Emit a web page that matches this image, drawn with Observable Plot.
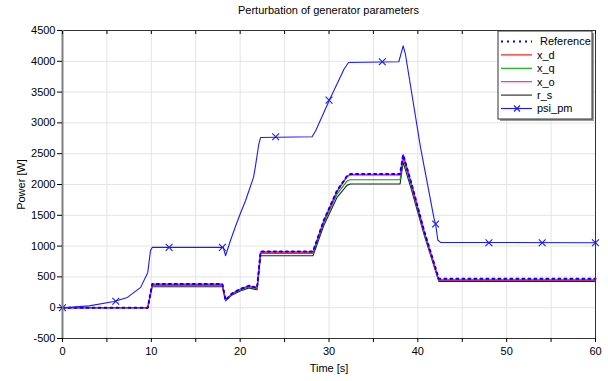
<!DOCTYPE html>
<html>
<head>
<meta charset="utf-8">
<script src="https://cdn.jsdelivr.net/npm/d3@7"></script>
<script src="https://cdn.jsdelivr.net/npm/@observablehq/plot@0.6"></script>
<style>
  html, body { margin: 0; padding: 0; background: #fff; }
  #chart svg { display: block; }
</style>
</head>
<body>
<div id="chart"></div>
<script>
// ---- Data ----
const titleText = "Perturbation of generator parameters";
const xLabel = "Time [s]";
const yLabel = "Power [W]";

const xTicks = [0, 5, 10, 15, 20, 25, 30, 35, 40, 45, 50, 55, 60];
const yTicks = [-500, 0, 500, 1000, 1500, 2000, 2500, 3000, 3500, 4000, 4500];

const seriesNames = ["Reference", "x_d", "x_q", "x_o", "r_s", "psi_pm"];
const seriesColors = ["#0000ff", "#ff0000", "#00aa00", "#ff00ff", "#222222", "#1a1aff"];

// time points shared by the lower group of curves
const lowT = [0, 9.6, 10.1, 18.0, 18.35, 19.1, 20.0, 21.0, 21.9, 22.3, 28.2, 29.4, 30.9, 32.05, 32.4, 38.0, 38.35, 39.3, 40.7, 42.36, 60];
const refV = [0, 0, 385, 385, 125, 232, 303, 357, 322, 912, 912, 1412, 1899, 2142, 2170, 2170, 2483, 2008, 1250, 471, 471];
const xdV  = [0, 0, 380, 380, 122, 228, 298, 352, 318, 902, 902, 1400, 1885, 2128, 2155, 2155, 2470, 1995, 1240, 450, 450];
const xqV  = [0, 0, 362, 362, 118, 220, 288, 340, 306, 881, 881, 1375, 1845, 2060, 2077, 2077, 2420, 1960, 1215, 441, 441];
const xoV  = [0, 0, 383, 383, 124, 230, 301, 355, 320, 908, 908, 1410, 1895, 2138, 2165, 2165, 2490, 2000, 1245, 452, 452];
const rsV  = [0, 0, 341, 341, 110, 208, 272, 322, 290, 844, 844, 1330, 1790, 1990, 2008, 2008, 2358, 1905, 1185, 427, 427];

// psi_pm curve
const psiT = [0, 3, 5.8, 7.3, 8.8, 9.6, 9.9, 10.1, 18.1, 18.35, 18.9, 19.5, 20.0, 20.6, 21.5, 21.7, 22.1, 22.3, 28.1, 28.5, 30.1, 31.7, 32.2, 37.86, 38.35, 38.6, 40.3, 41.8, 42.0, 42.25, 42.55, 60];
const psiV = [0, 30, 100, 167, 330, 573, 925, 979, 979, 844, 1087, 1331, 1521, 1737, 2115, 2277, 2657, 2764, 2775, 2873, 3387, 3874, 3981, 3993, 4252, 4118, 2602, 1466, 1358, 1099, 1060, 1055];
// psi_pm markers
const psiMarkT = [0, 6, 12, 18, 24, 30, 36, 42, 48, 54, 60];
const psiMarkV = [0, 105, 979, 979, 2775, 3370, 3993, 1358, 1055, 1055, 1055];

// ---- Build tables ----
const rows = (ts, vs) => ts.map((t, i) => ({t, v: vs[i]}));
const refRows = rows(lowT, refV);
const xdRows = rows(lowT, xdV);
const xqRows = rows(lowT, xqV);
const xoRows = rows(lowT, xoV);
const rsRows = rows(lowT, rsV);
const psiRows = rows(psiT, psiV);
const psiMarkRows = rows(psiMarkT, psiMarkV);

const font = "'Liberation Sans', Arial, sans-serif";

const chart = Plot.plot({
  width: 608,
  height: 381,
  marginLeft: 62,
  marginRight: 13,
  marginTop: 30,
  marginBottom: 43,
  style: {fontFamily: font, fontSize: "11px", color: "#000", background: "#fff"},
  x: {domain: [0, 60]},
  y: {domain: [-500, 4500]},
  marks: [
    Plot.gridX(xTicks, {stroke: "#e4e4e4", strokeOpacity: 1}),
    Plot.gridY(yTicks, {stroke: "#e4e4e4", strokeOpacity: 1}),
    Plot.line(rsRows, {x: "t", y: "v", stroke: seriesColors[4], strokeWidth: 1.1}),
    Plot.line(xqRows, {x: "t", y: "v", stroke: seriesColors[2], strokeWidth: 1.1}),
    Plot.line(xdRows, {x: "t", y: "v", stroke: seriesColors[1], strokeWidth: 1.1}),
    Plot.line(xoRows, {x: "t", y: "v", stroke: seriesColors[3], strokeWidth: 1.1}),
    Plot.line(refRows, {x: "t", y: "v", stroke: seriesColors[0], strokeWidth: 2, strokeDasharray: "2,4"}),
    Plot.line(psiRows, {x: "t", y: "v", stroke: seriesColors[5], strokeWidth: 1.1}),
    Plot.dot(psiMarkRows, {x: "t", y: "v", symbol: "times", r: 3.2, stroke: seriesColors[5], strokeWidth: 1.1}),
    Plot.frame({stroke: "#333"}),
    Plot.ruleX([0], {stroke: "#808080", strokeWidth: 2}),
    Plot.axisY(yTicks, {tickSize: 5, tickPadding: 2, tickFormat: d => String(d), label: yLabel, labelAnchor: "center", labelArrow: "none", labelOffset: 45}),
    Plot.axisX(xTicks, {tickSize: 4, tickPadding: 5, tickFormat: d => (d % 10 === 0 ? String(d) : ""), label: xLabel, labelAnchor: "center", labelArrow: "none", labelOffset: 33}),
    Plot.axisX(xTicks, {anchor: "top", tickSize: -3, tickFormat: () => "", label: null})
  ]
});

document.getElementById("chart").appendChild(chart);

// ---- Title and legend ----
const svg = d3.select(chart);
svg.append("text")
  .attr("x", (62 + 595) / 2)
  .attr("y", 14)
  .attr("text-anchor", "middle")
  .attr("font-family", font)
  .attr("font-size", 11)
  .attr("fill", "#000")
  .text(titleText);

const lg = svg.append("g").attr("font-family", font).attr("font-size", 11).attr("text-anchor", "start");
const bx = 498, by = 31, bw = 94, bh = 88;
lg.append("rect").attr("x", bx + 2).attr("y", by + 2).attr("width", bw).attr("height", bh).attr("fill", "#999");
lg.append("rect").attr("x", bx).attr("y", by).attr("width", bw).attr("height", bh).attr("fill", "#fff").attr("stroke", "#333");
seriesNames.forEach((name, i) => {
  const yy = by + 10.5 + i * 13.4;
  const ln = lg.append("line").attr("x1", 501).attr("x2", 532).attr("y1", yy).attr("y2", yy)
    .attr("stroke", seriesColors[i]).attr("stroke-width", i === 0 ? 2 : 1.1);
  if (i === 0) ln.attr("stroke-dasharray", "2,4");
  if (i === 5) {
    lg.append("path").attr("d", `M${514},${yy - 3}L${520},${yy + 3}M${514},${yy + 3}L${520},${yy - 3}`)
      .attr("stroke", seriesColors[i]).attr("stroke-width", 1.1).attr("fill", "none");
  }
  lg.append("text").attr("x", i === 0 ? 540 : 537).attr("y", yy).attr("dy", "0.35em")
    .attr("text-anchor", "start").attr("fill", "#000").text(name);
});
</script>
</body>
</html>
